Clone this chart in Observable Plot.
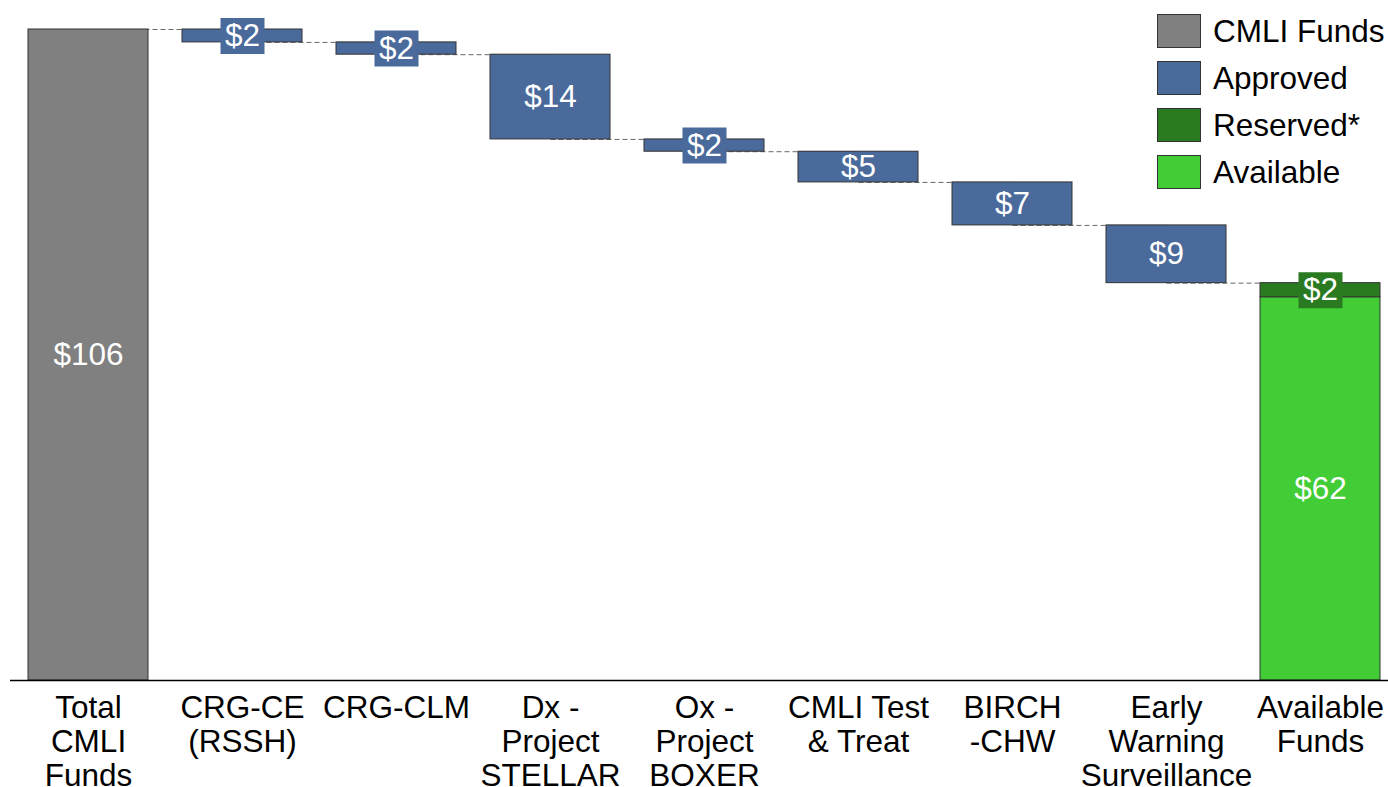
<!DOCTYPE html>
<html><head><meta charset="utf-8">
<script src="https://cdn.jsdelivr.net/npm/d3@7"></script>
<script src="https://cdn.jsdelivr.net/npm/@observablehq/plot@0.6"></script>
<style>
body{margin:0;background:#fff;font-family:"Liberation Sans",Arial,sans-serif;}
#wrap{position:relative;width:1388px;height:787px;overflow:hidden;}
#legend{position:absolute;left:1157px;top:14px;}
.row{display:flex;align-items:center;height:34px;margin-bottom:13px;}
.sw{width:42px;height:32px;border:1px solid #333;margin-right:12px;flex:none;}
.lab{font-size:31.5px;color:#000;white-space:nowrap;}
</style></head><body>
<div id="wrap"><div id="chart"></div><div id="legend"></div></div>
<script>
const categories = ["Total CMLI Funds","CRG-CE (RSSH)","CRG-CLM","Dx - Project STELLAR","Ox - Project BOXER","CMLI Test & Treat","BIRCH-CHW","Early Warning Surveillance","Available Funds"];
const tickLabels = ["Total\nCMLI\nFunds","CRG-CE\n(RSSH)","CRG-CLM","Dx -\nProject\nSTELLAR","Ox -\nProject\nBOXER","CMLI Test\n& Treat","BIRCH\n-CHW","Early\nWarning\nSurveillance","Available\nFunds"];
const total = 106;
const approved = [2.1, 2.0, 13.8, 2.0, 5.0, 7.0, 9.4];
const reserved = 2.3;
const available = 62.4;
const seriesNames = ["CMLI Funds","Approved","Reserved*","Available"];
const seriesColors = ["#808080","#4a6a9b","#2a7a22","#42cc36"];

// build waterfall segments
const segs = [{cat: categories[0], y1: 0, y2: total, type: "CMLI Funds", value: total}];
const links = [];
let level = total;
links.push({from: categories[0], to: categories[1], level});
approved.forEach((v, i) => {
  segs.push({cat: categories[i + 1], y1: level - v, y2: level, type: "Approved", value: v});
  level -= v;
  links.push({from: categories[i + 1], to: categories[i + 2], level});
});
const last = categories[categories.length - 1];
segs.push({cat: last, y1: 0, y2: available, type: "Available", value: available});
segs.push({cat: last, y1: available, y2: available + reserved, type: "Reserved*", value: reserved});
segs.forEach(d => { d.mid = (d.y1 + d.y2) / 2; d.label = "$" + Math.round(d.value); });

const color = Object.fromEntries(seriesNames.map((n, i) => [n, seriesColors[i]]));
const boxSymbol = {draw(ctx) { ctx.rect(-22, -18, 44, 36); }};
const FS = 31.5;

const chart = Plot.plot({
  width: 1388,
  height: 787,
  marginLeft: 10,
  marginRight: 0,
  marginTop: 29,
  marginBottom: 107,
  style: {fontFamily: "'Liberation Sans', Arial, sans-serif", background: "#fff"},
  x: {domain: categories, range: [10, 1398], paddingInner: 0.222, paddingOuter: 0.11, axis: null},
  y: {domain: [0, total], range: [680, 29], axis: null},
  marks: [
    Plot.link(links, {x1: "from", x2: "to", y1: "level", y2: "level", stroke: "#666", strokeWidth: 1, strokeDasharray: "5,3"}),
    Plot.barY(segs, {x: "cat", y1: "y1", y2: "y2", fill: d => color[d.type], stroke: "#333", strokeWidth: 1}),
    Plot.dot(segs.filter(d => d.value < 3), {x: "cat", y: "mid", symbol: boxSymbol, r: 10, fill: d => color[d.type], stroke: null}),
    Plot.text(segs, {x: "cat", y: "mid", text: "label", fill: "white", fontSize: FS}),
    Plot.ruleY([0], {stroke: "#000", strokeWidth: 1.5}),
    Plot.text(categories, {x: d => d, y: 0, text: (d, i) => tickLabels[i], dy: 13, lineAnchor: "top", lineHeight: 1.08, fontSize: FS, fill: "#000"})
  ]
});
document.getElementById("chart").appendChild(chart);

const legend = document.getElementById("legend");
seriesNames.forEach((n, i) => {
  const row = document.createElement("div");
  row.className = "row";
  row.innerHTML = `<div class="sw" style="background:${seriesColors[i]}"></div><div class="lab">${n}</div>`;
  legend.appendChild(row);
});
</script>
</body></html>
